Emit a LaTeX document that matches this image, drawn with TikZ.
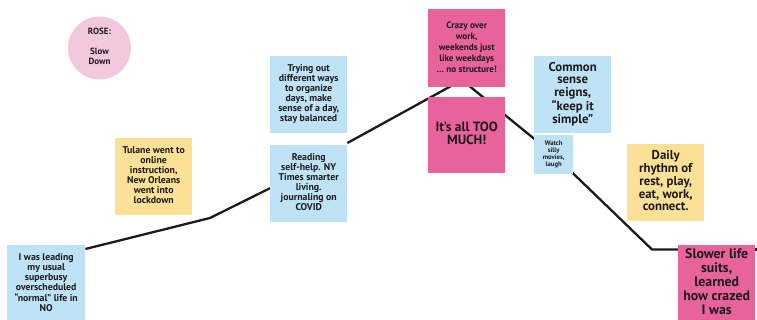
\documentclass[tikz,border=0pt]{standalone}
\usepackage{fontspec}
\setmainfont{PT Sans}
\usetikzlibrary{backgrounds}
\definecolor{cardblue}{RGB}{190,227,246}
\definecolor{cardyellow}{RGB}{250,225,150}
\definecolor{cardpink}{RGB}{232,98,156}
\definecolor{rosepink}{RGB}{242,200,222}
\definecolor{inkc}{RGB}{30,26,27}
\newcommand{\liftxt}[2]{\raisebox{#1}{\begin{tabular}{@{}c@{}}#2\end{tabular}}}
\begin{document}
\begin{tikzpicture}[x=1pt,y=-1pt,
  card/.style={rectangle, anchor=north west, inner sep=0pt, minimum width=77pt, minimum height=77pt,
    align=center, text=inkc, font=\bfseries\fontsize{9.8}{10}\selectfont},
  blue/.style={card, fill=cardblue},
  yellow/.style={card, fill=cardyellow},
  pink/.style={card, fill=cardpink},
  path/.style={draw=inkc, line width=2.3pt, line join=round},
]
\useasboundingbox (0,0) rectangle (757,320);

\node[circle, fill=rosepink, minimum size=63pt, inner sep=0pt, align=center, text=inkc,
  font=\bfseries\fontsize{9}{10}\selectfont] (rose) at (99.5,48) {\liftxt{-4pt}{ROSE:\\[10pt]Slow\\Down}};

\node[blue, minimum width=78pt] (lead) at (7,245) {\liftxt{3pt}{I was leading\\my usual\\superbusy\\overscheduled\\“normal” life in\\NO}};
\node[yellow] (tulane) at (115,138) {\liftxt{3pt}{Tulane went to\\online\\instruction,\\New Orleans\\went into\\lockdown}};
\node[blue] (reading) at (270,145) {\liftxt{3pt}{Reading\\self-help. NY\\Times smarter\\living.\\journaling on\\COVID}};
\node[blue] (trying) at (270,56) {\liftxt{8pt}{Trying out\\different ways\\to organize\\days, make\\sense of a day,\\stay balanced}};
\node[pink, minimum height=78pt, font=\bfseries\fontsize{9.2}{11.2}\selectfont] (crazy) at (428,9) {\liftxt{6pt}{Crazy over\\work,\\weekends just\\like weekdays\\… no structure!}};
\node[pink, minimum height=76pt, font=\bfseries\fontsize{13.4}{13.3}\selectfont] (toomuch) at (428,97) {\liftxt{5pt}{It’s all TOO\\MUCH!}};
\node[blue, font=\bfseries\fontsize{12.8}{12.5}\selectfont] (common) at (534,56) {\liftxt{2pt}{Common\\sense\\reigns,\\“keep it\\simple”}};
\node[blue, minimum width=39pt, minimum height=39pt, font=\bfseries\fontsize{6.7}{6.6}\selectfont] (watch) at (534,135) {\liftxt{4pt}{Watch\\silly\\movies,\\laugh}};
\node[yellow, font=\bfseries\fontsize{12.8}{12.7}\selectfont] (daily) at (627,144) {\liftxt{2pt}{Daily\\rhythm of\\rest, play,\\eat, work,\\connect.}};
\node[pink, font=\bfseries\fontsize{13.8}{13.8}\selectfont] (slower) at (678,245) {\liftxt{0pt}{Slower life\\suits,\\learned\\how crazed\\I was}};

\coordinate (dip) at (210,218);
\coordinate (peak) at (462,80);
\coordinate (floor) at (652,249.5);
\coordinate (edge) at (762,249.5);

\begin{scope}[on background layer]
  \draw[path] ([yshift=-4pt]lead.north east) -- (dip) -- ([yshift=-4.5pt]reading.west);
  \draw[path] ([yshift=2pt]reading.north east) -- (peak) -- (watch.center) -- (floor) -- (slower.west |- floor);
  \draw[path] (slower.east |- floor) -- (edge);
\end{scope}
\end{tikzpicture}
\end{document}
